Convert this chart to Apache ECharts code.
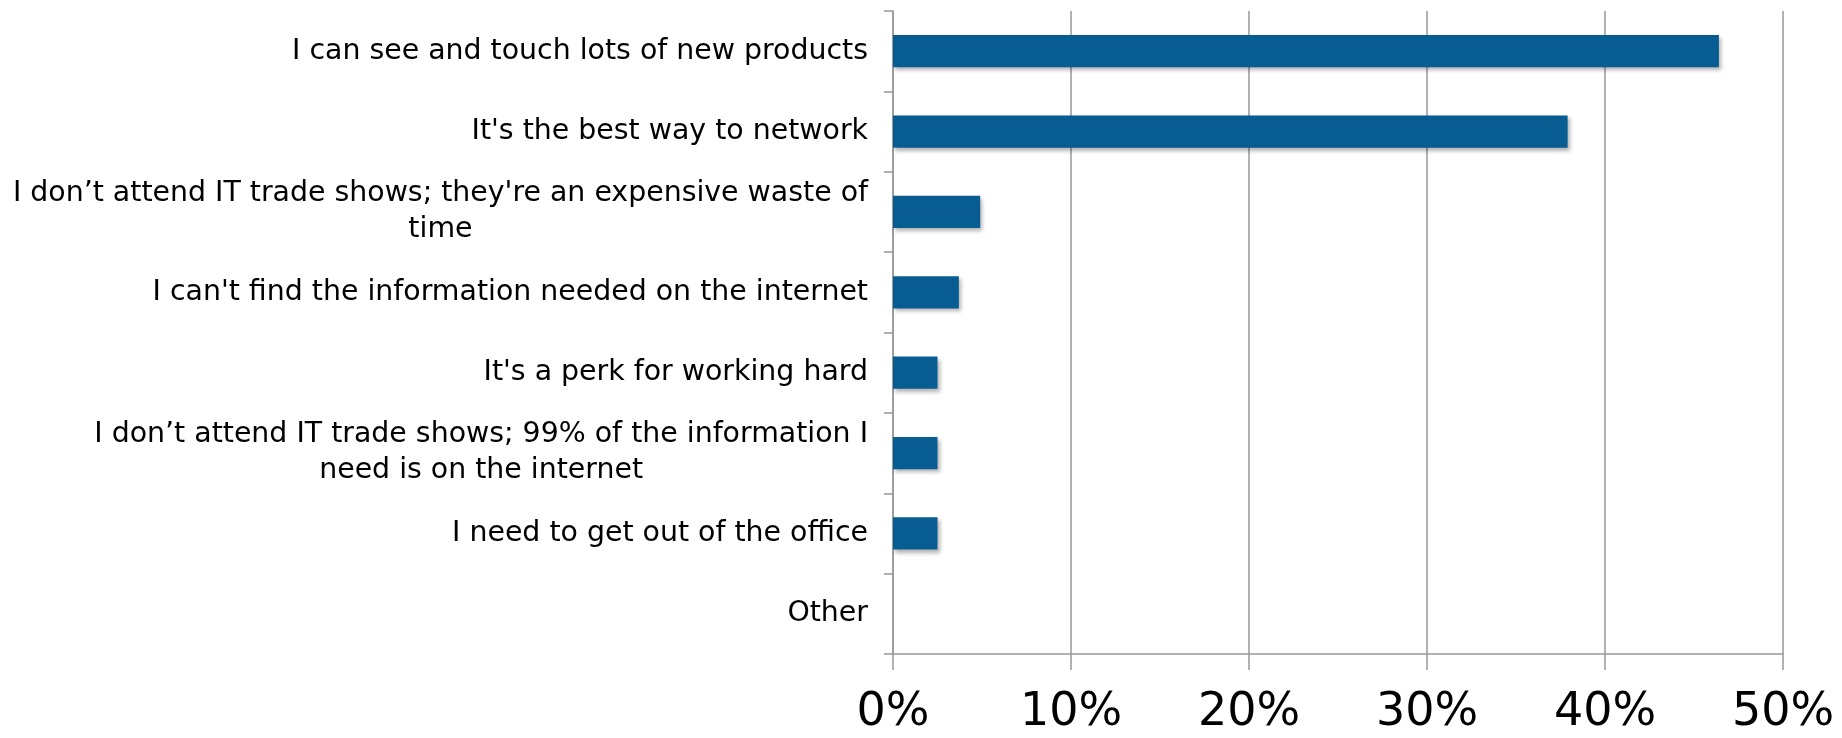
<!DOCTYPE html>
<html>
<head>
<meta charset="utf-8">
<script src="https://cdn.jsdelivr.net/npm/echarts@6/dist/echarts.min.js"></script>
<style>
  html, body { margin: 0; padding: 0; background: #fff; }
  #chart { width: 1842px; height: 738px; }
</style>
</head>
<body>
<div id="chart"></div>
<script>
// reasons for attending IT trade shows (top to bottom)
const categories = [
  'I can see and touch lots of new products',
  "It's the best way to network",
  "I don\u2019t attend IT trade shows; they're an expensive waste of\ntime",
  "I can't find the information needed on the internet",
  "It's a perk for working hard",
  "I don\u2019t attend IT trade shows; 99% of the information I\nneed is on the internet",
  'I need to get out of the office',
  'Other'
];
const shares = [46.4, 37.9, 4.9, 3.7, 2.5, 2.5, 2.5, 0];
const xTicks = [0, 10, 20, 30, 40, 50];

const gridColor = '#999999';

let myChart = echarts.init(document.getElementById('chart'));
myChart.setOption({
  animation: false,
  textStyle: { fontFamily: 'DejaVu Sans' },
  grid: { left: 893, right: 59, top: 11, bottom: 84, containLabel: false },
  xAxis: {
    type: 'value',
    min: xTicks[0],
    max: xTicks[xTicks.length - 1],
    interval: 10,
    axisLine: { show: true, lineStyle: { color: gridColor, width: 1.5 } },
    axisTick: { show: true, length: 16, lineStyle: { color: gridColor, width: 1.5 } },
    splitLine: { show: true, lineStyle: { color: gridColor, width: 1.5 } },
    axisLabel: {
      color: '#000',
      fontSize: 46,
      margin: 36,
      formatter: v => v + '%'
    }
  },
  yAxis: {
    type: 'category',
    inverse: true,
    data: categories,
    axisLine: { show: true, lineStyle: { color: gridColor, width: 1.5 } },
    axisTick: { show: true, length: 9, lineStyle: { color: gridColor, width: 1.5 } },
    axisLabel: {
      color: '#000',
      align: 'right',
      margin: 25,
      // wrapped lines are centred under each other, like the original
      formatter: v => v.split('\n').map(s => '{c|' + s + '}').join('\n'),
      rich: {
        c: { align: 'center', fontSize: 28.4, lineHeight: 36, color: '#000', fontFamily: 'DejaVu Sans' }
      }
    }
  },
  series: [{
    type: 'bar',
    data: shares,
    barCategoryGap: '60%',
    itemStyle: {
      color: '#075d92',
      shadowColor: 'rgba(0,0,0,0.3)',
      shadowBlur: 4,
      shadowOffsetX: 2,
      shadowOffsetY: 3
    }
  }]
});
</script>
</body>
</html>
